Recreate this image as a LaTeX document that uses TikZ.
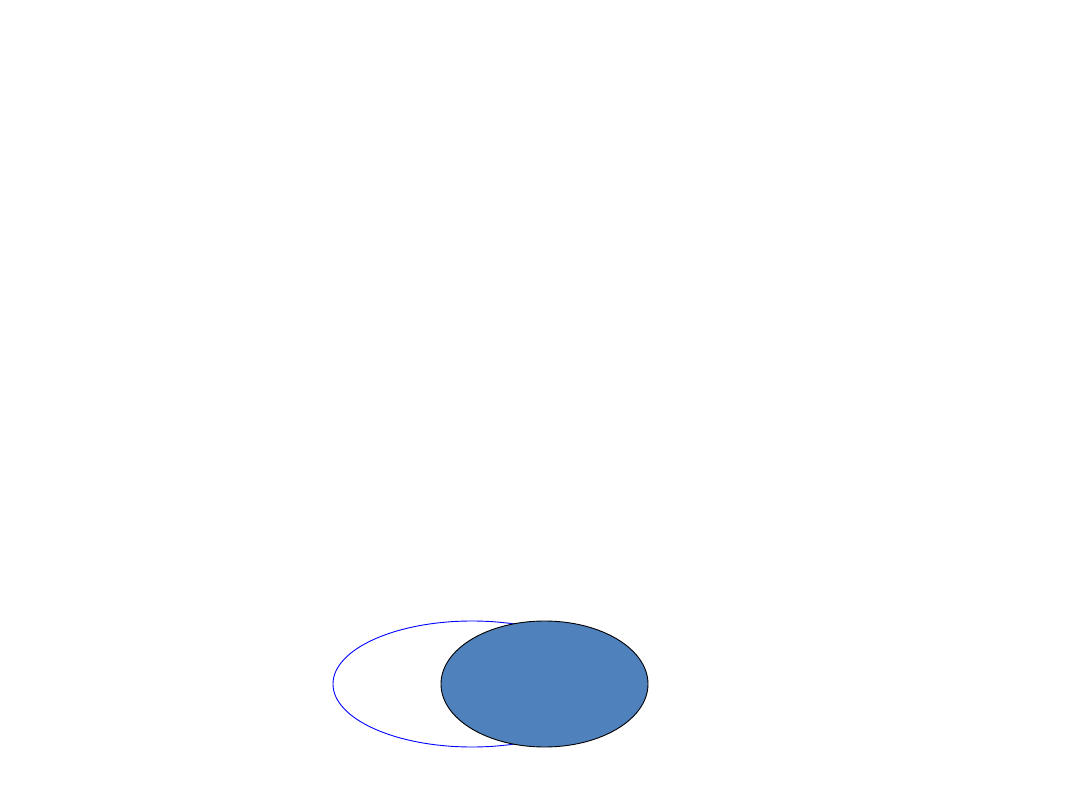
\documentclass[tikz,border=0pt]{standalone}
\usepackage{tikz}
\definecolor{fillblue}{HTML}{4F81BD}
\tikzset{
  outline/.style={draw=blue, line width=0.9pt},
  solid shape/.style={draw=black, fill=fillblue, line width=0.9pt}
}
\begin{document}
\begin{tikzpicture}[x=1pt,y=-1pt]
\useasboundingbox[fill=white] (0,0) rectangle (1080,810);
\draw[outline] (472,684) ellipse [x radius=139, y radius=63];
\draw[solid shape] (544.5,684) ellipse [x radius=103.5, y radius=63];
\end{tikzpicture}
\end{document}
